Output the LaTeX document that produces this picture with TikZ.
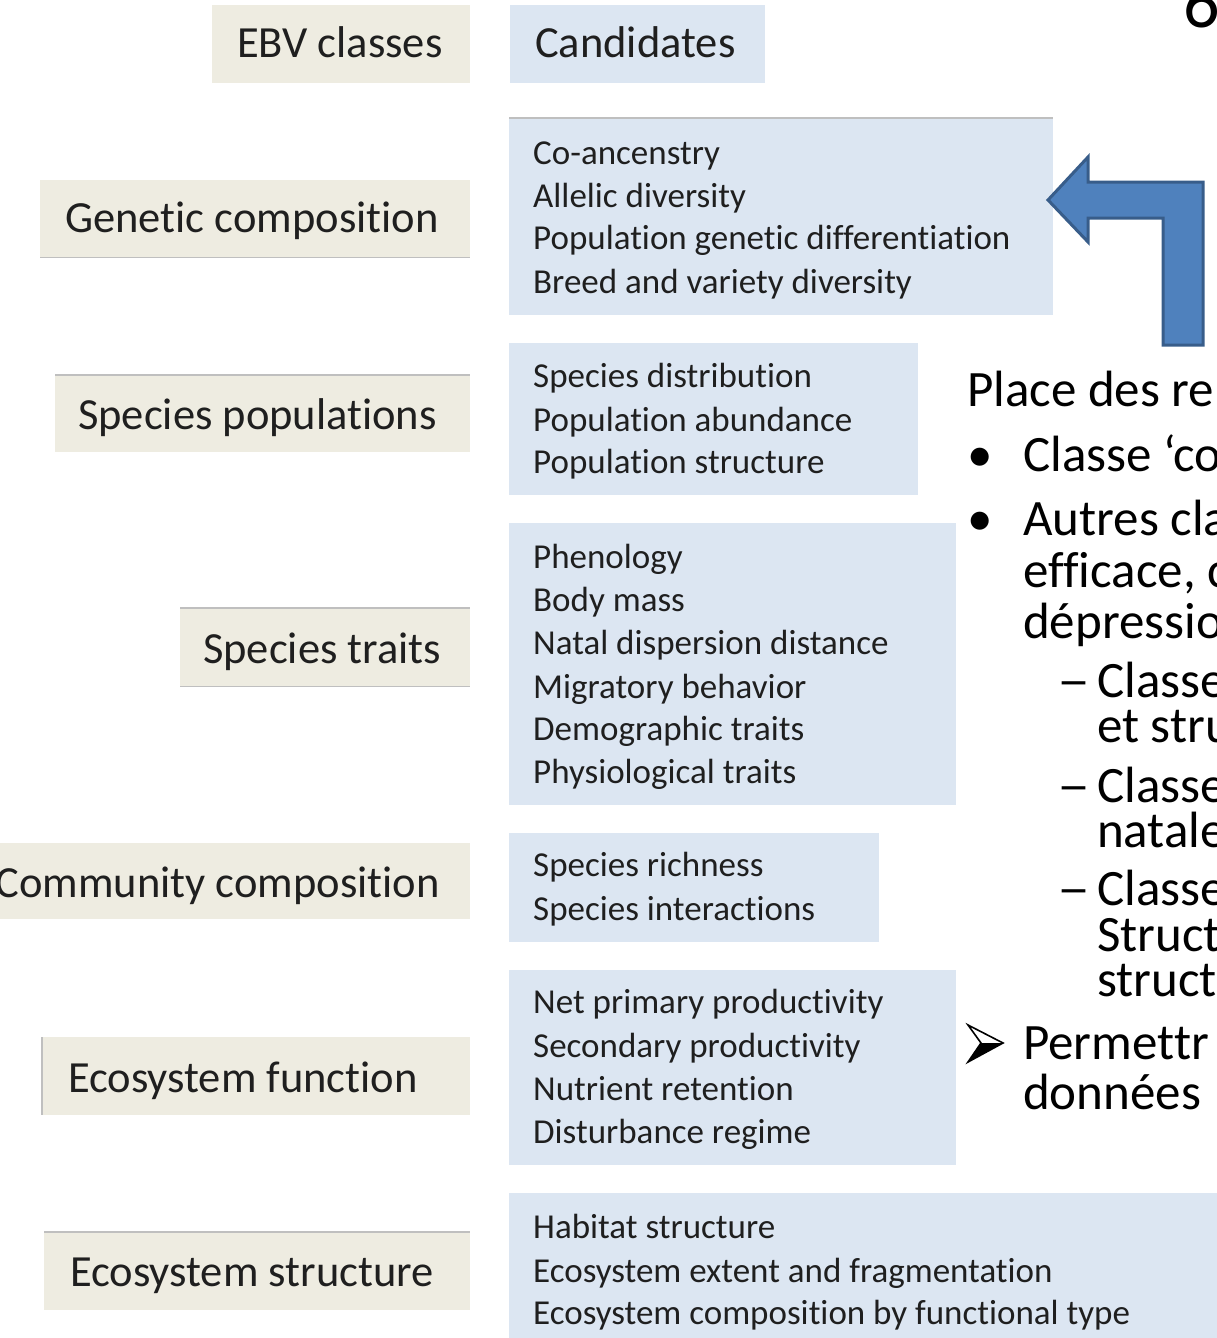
\documentclass[tikz,border=0pt]{standalone}
\usepackage{fontspec}
\setmainfont{Carlito}[Ligatures={NoCommon}]
\definecolor{beige}{HTML}{EEECE1}
\definecolor{paleblue}{HTML}{DCE6F2}
\definecolor{rulegray}{HTML}{BFBFBF}
\definecolor{arrowfill}{HTML}{4F81BD}
\definecolor{arrowline}{HTML}{385D8A}
\definecolor{boxtext}{HTML}{1F1F1F}
\begin{document}
\begin{tikzpicture}[x=1pt,y=-1pt,
  classbox/.style={fill=beige, draw=none, inner sep=0, anchor=north west},
  candbox/.style={fill=paleblue, draw=none, inner sep=0, anchor=north west},
  classtext/.style={font=\fontsize{44.5}{53}\selectfont, text=boxtext, inner sep=0, anchor=base west},
  candtext/.style={font=\fontsize{35}{43}\selectfont, text=boxtext, inner sep=0, anchor=base west},
  bodytext/.style={font=\fontsize{51}{56}\selectfont, text=black, inner sep=0, anchor=base west},
  edgeline/.style={draw=rulegray, line width=1.5pt},
  bigarrow/.style={fill=arrowfill, draw=arrowline, line width=3pt, line join=miter},
  dashtext/.style={bodytext},
]
\useasboundingbox (0,0) rectangle (1217,1338);
\clip (0,0) rectangle (1217,1338);

% ---- class boxes (beige) ----
\node[classbox, minimum width=258, minimum height=78] (bEBV) at (212,5) {};
\node[classbox, minimum width=430, minimum height=77] (bGen) at (40,180) {};
\node[classbox, minimum width=415, minimum height=77] (bPop) at (55,375) {};
\node[classbox, minimum width=290, minimum height=78] (bTra) at (180,608) {};
\node[classbox, minimum width=470, minimum height=76] (bCom) at (0,843) {};
\node[classbox, minimum width=428, minimum height=78] (bFun) at (42,1037) {};
\node[classbox, minimum width=426, minimum height=78] (bStr) at (44,1232) {};

\draw[edgeline] (bGen.south west) -- (bGen.south east);
\draw[edgeline] (bPop.north west) -- (bPop.north east);
\draw[edgeline] (bTra.north west) -- (bTra.north east);
\draw[edgeline] (bTra.south west) -- (bTra.south east);
\draw[edgeline] (bFun.north west) -- (bFun.south west);
\draw[edgeline] (bStr.north west) -- (bStr.north east);

% ---- candidate boxes (blue) ----
\node[candbox, minimum width=255, minimum height=78] (cHead) at (510,5) {};
\node[candbox, minimum width=544, minimum height=197] (cGen) at (509,118) {};
\node[candbox, minimum width=409, minimum height=152] (cPop) at (509,343) {};
\node[candbox, minimum width=447, minimum height=282] (cTra) at (509,523) {};
\node[candbox, minimum width=370, minimum height=109] (cCom) at (509,833) {};
\node[candbox, minimum width=447, minimum height=195] (cFun) at (509,970) {};
\node[candbox, minimum width=720, minimum height=160] (cStr) at (509,1193) {};
\draw[edgeline] (cGen.north west) -- (cGen.north east);

% ---- class labels ----
\node[classtext] (tEBV) at (237,58) {EBV classes};
\node[classtext] (tCand) at (535,58) {Candidates};
\node[classtext] (tGen) at (65,232) {Genetic composition};
\node[classtext] (tPop) at (78,429) {Species populations};
\node[classtext] (tTra) at (203,663) {Species traits};
\node[classtext, anchor=base east] (tCom) at (440,897) {Community composition};
\node[classtext] (tFun) at (68,1092) {Ecosystem function};
\node[classtext] (tStr) at (70,1286) {Ecosystem structure};

% ---- candidate lines ----
\node[candtext] (g1) at (533,164) {Co-ancenstry};
\node[candtext] (g2) at (533,207) {Allelic diversity};
\node[candtext] (g3) at (533,249) {Population genetic differentiation};
\node[candtext] (g4) at (533,293) {Breed and variety diversity};

\node[candtext] (p1) at (533,387) {Species distribution};
\node[candtext] (p2) at (533,431) {Population abundance};
\node[candtext] (p3) at (533,473) {Population structure};

\node[candtext] (r1) at (533,568) {Phenology};
\node[candtext] (r2) at (533,611) {Body mass};
\node[candtext] (r3) at (533,654) {Natal dispersion distance};
\node[candtext] (r4) at (533,698) {Migratory behavior};
\node[candtext] (r5) at (533,740) {Demographic traits};
\node[candtext] (r6) at (533,783) {Physiological traits};

\node[candtext] (m1) at (533,876) {Species richness};
\node[candtext] (m2) at (533,920) {Species interactions};

\node[candtext] (f1) at (533,1013) {Net primary productivity};
\node[candtext] (f2) at (533,1057) {Secondary productivity};
\node[candtext] (f3) at (533,1100) {Nutrient retention};
\node[candtext] (f4) at (533,1143) {Disturbance regime};

\node[candtext] (s1) at (533,1238) {Habitat structure};
\node[candtext] (s2) at (533,1282) {Ecosystem extent and fragmentation};
\node[candtext] (s3) at (533,1324) {Ecosystem composition by functional type};

% ---- bent arrow ----
\draw[bigarrow] (1048,200) -- (1088,157) -- (1088,182) -- (1203,182) -- (1203,345)
  -- (1163,345) -- (1163,218) -- (1088,218) -- (1088,242) -- cycle;

% ---- slide number fragment ----
\node[bodytext, font=\fontsize{72}{80}\selectfont] (num) at (1183,28) {6};

% ---- right-hand text ----
\node[bodytext] (x1) at (967,406) {Place des re};
\node[bodytext] (bu1) at (967,471) {•};
\node[bodytext] (x2) at (1023,471) {Classe ‘co};
\node[bodytext] (bu2) at (967,535) {•};
\node[bodytext] (x3) at (1023,535) {Autres cla};
\node[bodytext] (x4) at (1023,587) {efficace, c};
\node[bodytext] (x5) at (1023,638) {dépressio};
\node[dashtext] (d1) at (1057,697) {\scalebox{1.3}[1]{–}};
\node[bodytext] (x6) at (1097,697) {Classe};
\node[bodytext] (x7) at (1097,742) {et stru};
\node[dashtext] (d2) at (1057,802) {\scalebox{1.3}[1]{–}};
\node[bodytext] (x8) at (1097,802) {Classe};
\node[bodytext] (x9) at (1097,847) {natale};
\node[dashtext] (d3) at (1057,905) {\scalebox{1.3}[1]{–}};
\node[bodytext] (x10) at (1097,905) {Classe};
\node[bodytext] (x11) at (1097,951) {Structu};
\node[bodytext] (x12) at (1097,996) {structu};
% arrowhead bullet
\coordinate (ahT) at (968,1025);
\coordinate (ahP) at (1003,1043);
\coordinate (ahB) at (968,1062);
\coordinate (ahN) at (981,1043);
\draw[line width=1.6pt, line join=miter] (ahT) -- (ahP) -- (ahB) -- (ahN) -- cycle;
\fill (ahN) -- (ahP) -- (ahB) -- cycle;
\node[bodytext] (x13) at (1023,1059) {Permettr};
\node[bodytext] (x14) at (1023,1109) {données};
\end{tikzpicture}
\end{document}
